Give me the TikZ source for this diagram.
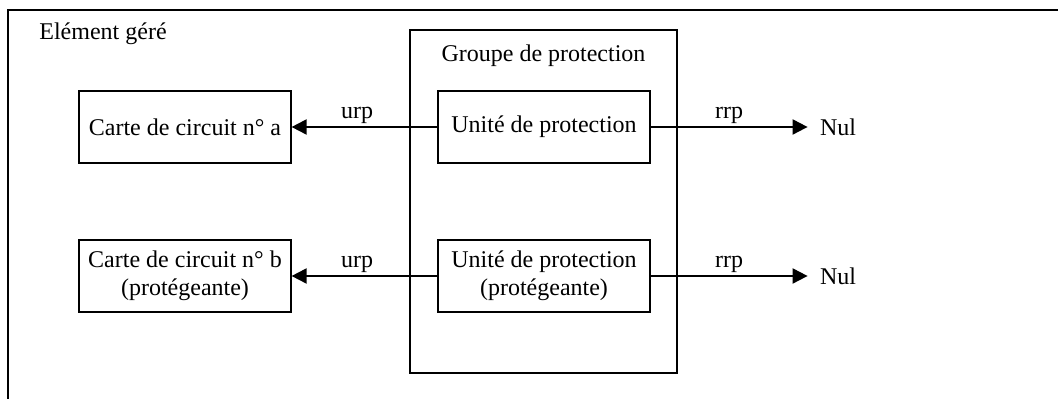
\documentclass[tikz,border=0pt]{standalone}
\usepackage{fontspec}
\setmainfont{Liberation Serif}
\usetikzlibrary{arrows.meta, positioning}

\begin{document}
\begin{tikzpicture}[
            x=0.5pt, y=-0.5pt,
            every node/.style={inner sep=0pt, font=\fontsize{12}{13.8}\selectfont},
            box/.style={draw, line width=0.6pt, align=center, minimum width=106pt, minimum height=36pt},
            lbl/.style={above, inner sep=1pt},
            >={Triangle[length=7.5pt, width=7.5pt]}
        ]
            \useasboundingbox (0,0) rectangle (1058,399);
            \clip (0,0) rectangle (1058,399);
            % cadre de l'element gere
            \draw[line width=0.7pt] (8,10) rectangle (1090,430);
            \node[anchor=base west] (elem) at (39,40) {Elément géré};
            \node[draw, line width=0.6pt, minimum width=133.5pt, minimum height=171.5pt] (groupe) at (543.5,201.5) {};
            \node[anchor=base] (groupelbl) at (543.5,62) {Groupe de protection};
            \node[box] (carta) at (185,127) {Carte de circuit n° a};
            \node[box] (unita) at (544,127) {Unité de protection};
            \node[box] (cartb) at (185,276) {Carte de circuit n° b\\(protégeante)};
            \node[box] (unitb) at (544,276) {Unité de protection\\(protégeante)};
            \node[inner xsep=6pt] (nula) at (838,127) {Nul};
            \node[inner xsep=6pt] (nulb) at (838,276) {Nul};
            \path[->, draw, line width=1pt]
            (unita) edge node[lbl, pos=0.55] {urp} (carta)
            (unita) edge node[lbl] {rrp} (nula)
            (unitb) edge node[lbl, pos=0.55] {urp} (cartb)
            (unitb) edge node[lbl] {rrp} (nulb)
            ;
        \end{tikzpicture}
\end{document}
